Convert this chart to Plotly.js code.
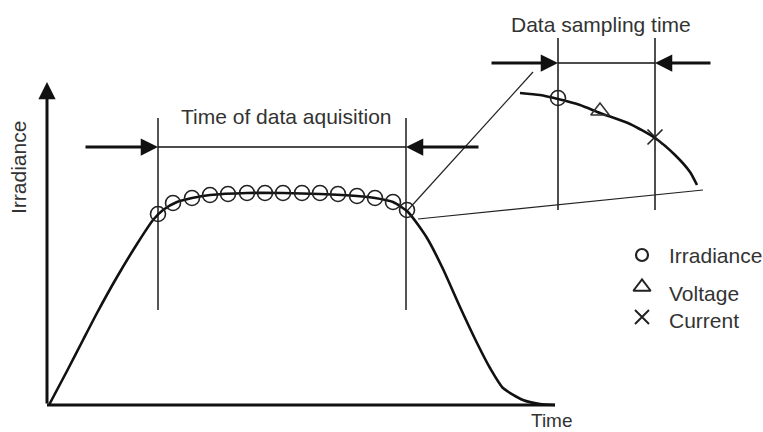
<!DOCTYPE html>
<html>
<head>
<meta charset="utf-8">
<script src="https://cdn.plot.ly/plotly-3.0.1.min.js"></script>
<style>html,body{margin:0;padding:0;background:#fff;}#chart{width:763px;height:432px;}</style>
</head>
<body>
<div id="chart"></div>
<script>
// ---- Data (schematic units: time along x, irradiance along y) ----
const mainTime = [2, 20, 36, 50, 70, 90, 106, 116, 130, 145, 163, 200, 236, 273, 310, 328, 346, 361, 380, 396, 413, 430, 443, 456, 476, 493, 508];
const mainIrr  = [0, 34, 65, 92, 128, 161, 185, 195, 203, 207, 210, 212, 212, 211, 209, 207, 203, 193, 167, 136, 98, 62, 37, 17, 5, 1, 0];

const sampleTime = [111, 126, 145, 163, 181, 200, 218, 236, 255, 273, 291, 310, 328, 346, 360];
const sampleIrr  = [191, 202, 207, 210, 211, 212, 212, 212, 212, 212, 211, 209, 207, 203, 195];

const insetTime = [473, 493, 511, 533, 553, 583, 608, 628, 643, 650];
const insetIrr  = [312, 310, 306, 300, 292, 281, 267, 250, 233, 220];
const insetIrrPt  = {t: [511], v: [307]};
const insetVoltPt = {t: [553], v: [294]};
const insetCurrPt = {t: [608], v: [268]};

const zoomLineA = {t: [360, 486], v: [194, 333]};
const zoomLineB = {t: [371, 656], v: [186, 215]};

const acqBounds = [111, 359];   const acqSpan = [95, 287];  const acqRow = 258;
const acqArrowTails = [37, 433];
const smpBounds = [511, 608];   const smpSpan = [195, 367]; const smpRow = 342;
const smpArrowTails = [443, 665];

const axisTop = 323; const axisEnd = 508;

const legendLabels = ["Irradiance", "Voltage", "Current"];
const legendSymbolY = [150, 118, 88];
const legendTextY = [150, 112, 85];
const legendSymbolX = 595, legendTextX = 620;

// ---- helpers ----
function vlines(xs, span){
  const x=[], y=[];
  xs.forEach(v=>{x.push(v,v,null); y.push(span[0],span[1],null);});
  return {x, y};
}
const black = '#111';
const vA = vlines(acqBounds, acqSpan);
const vS = vlines(smpBounds, smpSpan);

const traces = [
  {x: vA.x, y: vA.y, mode:'lines', line:{color:'#555', width:2}, hoverinfo:'skip'},
  {x: vS.x, y: vS.y, mode:'lines', line:{color:'#222', width:1.6}, hoverinfo:'skip'},
  {x: acqBounds, y: [acqRow, acqRow], mode:'lines', line:{color:black, width:1.5}, hoverinfo:'skip'},
  {x: smpBounds, y: [smpRow, smpRow], mode:'lines', line:{color:black, width:1.5}, hoverinfo:'skip'},
  {x: zoomLineA.t, y: zoomLineA.v, mode:'lines', line:{color:'#222', width:1.2}, hoverinfo:'skip'},
  {x: zoomLineB.t, y: zoomLineB.v, mode:'lines', line:{color:'#222', width:1.2}, hoverinfo:'skip'},
  {x: [0, axisEnd], y: [0, 0], mode:'lines', line:{color:black, width:3}, hoverinfo:'skip'},
  {x: mainTime, y: mainIrr, mode:'lines', line:{color:black, width:2.6, shape:'spline', smoothing:0.6}, hoverinfo:'skip'},
  {x: sampleTime, y: sampleIrr, mode:'markers', marker:{symbol:'circle-open', size:15, color:'#222', line:{width:1.6, color:'#222'}}, hoverinfo:'skip'},
  {x: insetTime, y: insetIrr, mode:'lines', line:{color:black, width:2.6, shape:'spline', smoothing:0.6}, hoverinfo:'skip'},
  {x: insetIrrPt.t, y: insetIrrPt.v, mode:'markers', marker:{symbol:'circle-open', size:15, color:'#222', line:{width:1.6}}, hoverinfo:'skip'},
  {x: insetVoltPt.t, y: insetVoltPt.v, mode:'markers', marker:{symbol:'triangle-up-open', size:16, color:'#333', line:{width:1.6}}, hoverinfo:'skip'},
  {x: insetCurrPt.t, y: insetCurrPt.v, mode:'markers', marker:{symbol:'x-thin-open', size:15, color:'#222', line:{width:1.6, color:'#222'}}, hoverinfo:'skip'},
  {x: [legendSymbolX], y: [legendSymbolY[0]], mode:'markers', marker:{symbol:'circle-open', size:12, color:'#222', line:{width:2.2}}, hoverinfo:'skip'},
  {x: [legendSymbolX], y: [legendSymbolY[1]], mode:'markers', marker:{symbol:'triangle-up-open', size:15, color:'#222', line:{width:2}}, hoverinfo:'skip'},
  {x: [legendSymbolX], y: [legendSymbolY[2]], mode:'markers', marker:{symbol:'x-thin-open', size:14, color:'#222', line:{width:2, color:'#222'}}, hoverinfo:'skip'}
];

const font = {family:'Arial, "Liberation Sans", sans-serif', size:21, color:'#333'};
function arrow(tail, head, row){
  return {x: head, y: row, ax: tail, ay: row, xref:'x', yref:'y', axref:'x', ayref:'y',
          text:'', showarrow:true, arrowhead:2, arrowsize:1.15, arrowwidth:3, arrowcolor:black};
}
const annotations = [
  arrow(acqArrowTails[0], acqBounds[0], acqRow),
  arrow(acqArrowTails[1], acqBounds[1], acqRow),
  arrow(smpArrowTails[0], smpBounds[0], smpRow),
  arrow(smpArrowTails[1], smpBounds[1], smpRow),
  {x:0, y:axisTop, ax:0, ay:0, xref:'x', yref:'y', axref:'x', ayref:'y', text:'', showarrow:true,
   arrowhead:2, arrowsize:1.15, arrowwidth:3, arrowcolor:black},
  {x:239, y:289, xref:'x', yref:'y', text:'Time of data aquisition', showarrow:false, font:font},
  {x:554, y:381, xref:'x', yref:'y', text:'Data sampling time', showarrow:false, font:font},
  {x:505, y:-15, xref:'x', yref:'y', text:'Time', showarrow:false, font:Object.assign({}, font, {size:19})},
  {x:-29, y:237, xref:'x', yref:'y', text:'Irradiance', textangle:-90, showarrow:false, font:font}
];
legendLabels.forEach((l,i)=>annotations.push({x:legendTextX, y:legendTextY[i], xref:'x', yref:'y', text:l,
  xanchor:'left', showarrow:false, font:font}));

const layout = {
  width:763, height:432, margin:{l:0,r:0,t:0,b:0},
  paper_bgcolor:'#fff', plot_bgcolor:'#fff', showlegend:false,
  xaxis:{range:[-47,716], visible:false, fixedrange:true},
  yaxis:{range:[-27,405], visible:false, fixedrange:true},
  annotations: annotations
};
Plotly.newPlot('chart', traces, layout, {displayModeBar:false, staticPlot:true});
</script>
</body>
</html>
